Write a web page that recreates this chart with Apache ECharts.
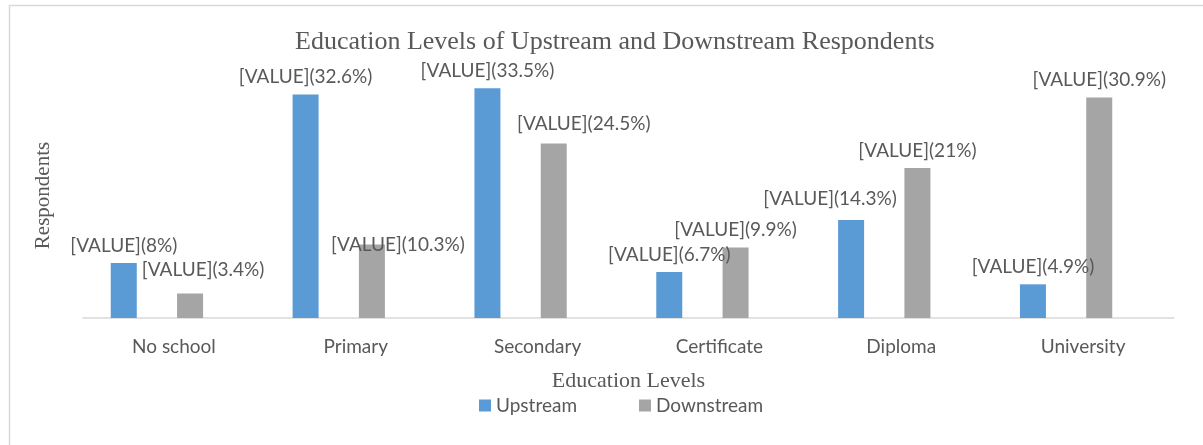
<!DOCTYPE html>
<html>
<head>
<meta charset="utf-8">
<style>
  html, body { margin: 0; padding: 0; background: #fff; }
  #chart { width: 1203px; height: 445px; }
</style>
<script src="https://cdn.jsdelivr.net/npm/echarts@6/dist/echarts.min.js"></script>
</head>
<body>
<div id="chart"></div>
<script>
const categories = ['No school', 'Primary', 'Secondary', 'Certificate', 'Diploma', 'University']
const upstream = [18, 73, 75, 15, 32, 11]
const downstream = [8, 24, 57, 23, 49, 72]
const upstreamPct = ['8', '32.6', '33.5', '6.7', '14.3', '4.9']
const downstreamPct = ['3.4', '10.3', '24.5', '9.9', '21', '30.9']

// hand-placed label nudges (Excel moved a few labels to avoid overlaps)
const upNudge = [[0, 0], [0, 0], [0, 0], [0, 0], [-21, -4], [0, 0]]
const downNudge = [[13, -6], [26, 18], [30, -2], [0, 0], [0, 0], [0, 0]]

const textColor = '#595959'
const serif = '"Liberation Serif", "DejaVu Serif", serif'
const sans = 'Lato, "Open Sans", sans-serif'

const chart = echarts.init(document.getElementById('chart'))

const makeData = (vals, nudge) => vals.map((v, i) => ({
  value: v,
  label: { offset: nudge[i] }
}))

const labelStyle = (pct) => ({
  show: true,
  position: 'top',
  distance: 8,
  color: textColor,
  fontFamily: sans,
  fontSize: 19,
  formatter: (p) => '[VALUE](' + pct[p.dataIndex] + '%)'
})

const option = {
  animation: false,
  graphic: [{
    type: 'rect',
    left: 7, top: 3,
    shape: { width: 1400, height: 600 },
    style: { fill: 'none', stroke: '#d9d9d9', lineWidth: 1.5 },
    silent: true
  }],
  title: {
    text: 'Education Levels of Upstream and Downstream Respondents',
    left: 290,
    top: 24,
    textStyle: { fontFamily: serif, fontSize: 26, fontWeight: 'normal', color: textColor }
  },
  legend: {
    top: 391,
    left: 474,
    itemWidth: 12,
    itemHeight: 12,
    itemGap: 62,
    icon: 'rect',
    textStyle: { fontFamily: sans, fontSize: 19, color: textColor },
    data: ['Upstream', 'Downstream']
  },
  grid: [
    { left: 83, right: 29, top: 73, bottom: 127 },
    { left: 66, right: 46, top: 73, bottom: 127 }
  ],
  xAxis: [
    {
      type: 'category',
      gridIndex: 0,
      data: categories,
      name: 'Education Levels',
      nameLocation: 'middle',
      nameGap: 52,
      nameTextStyle: { fontFamily: serif, fontSize: 22, color: textColor },
      axisLine: { lineStyle: { color: '#d9d9d9', width: 1.5 } },
      axisTick: { length: 7, lineStyle: { color: '#d9d9d9' } },
      axisLabel: { margin: 19, fontFamily: sans, fontSize: 19, color: textColor }
    },
    {
      type: 'category',
      gridIndex: 1,
      data: categories,
      show: false
    }
  ],
  yAxis: [
    {
      type: 'value',
      gridIndex: 0,
      min: 0,
      max: 80,
      name: 'Respondents',
      nameLocation: 'middle',
      nameGap: 29,
      nameTextStyle: { fontFamily: serif, fontSize: 21, color: textColor },
      axisLine: { show: false },
      axisTick: { show: false },
      axisLabel: { show: false },
      splitLine: { show: false }
    },
    {
      type: 'value',
      gridIndex: 1,
      min: 0,
      max: 80,
      show: false,
      splitLine: { show: false }
    }
  ],
  series: [
    {
      name: 'Upstream',
      type: 'bar',
      xAxisIndex: 1,
      yAxisIndex: 1,
      barWidth: 26,
      barGap: '155%',
      itemStyle: { color: '#5b9bd5' },
      label: labelStyle(upstreamPct),
      data: makeData(upstream, upNudge)
    },
    {
      name: 'Downstream',
      type: 'bar',
      xAxisIndex: 1,
      yAxisIndex: 1,
      barWidth: 26,
      barGap: '155%',
      itemStyle: { color: '#a5a5a5' },
      label: labelStyle(downstreamPct),
      data: makeData(downstream, downNudge)
    }
  ]
}

chart.setOption(option)
window.addEventListener('resize', () => chart.resize())
</script>
</body>
</html>
